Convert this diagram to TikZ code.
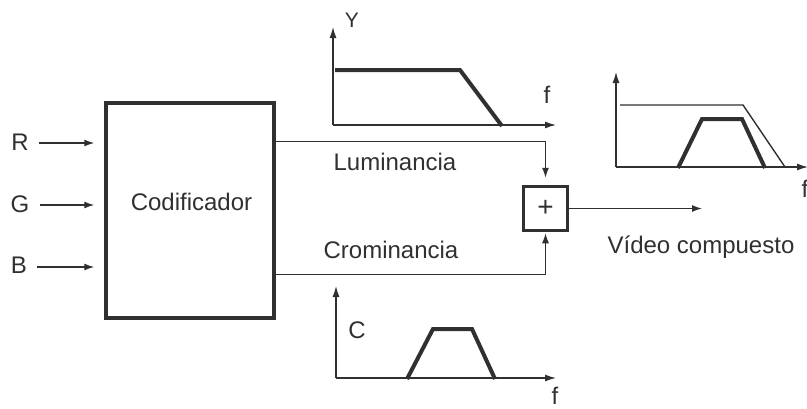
\documentclass[tikz,border=0pt]{standalone}
\usepackage{fontspec}
\setmainfont{Liberation Sans}
\usepackage{xcolor}
\usepackage{tikz}
\usetikzlibrary{arrows.meta,positioning,calc}

\definecolor{ink}{HTML}{303030}

\begin{document}
\begin{tikzpicture}[
  x=1pt,y=-1pt,
  font=\fontsize{24}{28}\selectfont,
  every node/.style={text=ink},
  lbl/.style={anchor=base,inner sep=0pt},
  blk/.style={draw=ink,line width=3.5pt,minimum width=168pt,minimum height=215pt,inner sep=0pt},
  sumbox/.style={draw=ink,line width=3.5pt,minimum size=44pt,inner sep=0pt,font=\fontsize{28}{30}\selectfont},
  arrow/.style={draw=ink,line width=1.3pt,-{Latex[length=10pt,width=7pt]}},
  axis/.style={draw=ink,line width=1.3pt,-{Latex[length=11pt,width=7pt]}},
  curve/.style={draw=ink,line width=4pt,line join=miter},
  thin/.style={draw=ink,line width=1.4pt}
]
\useasboundingbox (0,0) rectangle (807,408);

% coder and adder
\node[blk] (cod) at (190,210.5) {};
\node[lbl] (codtxt) at (191.5,210) {Codificador};
\node[sumbox] (sum) at (545.5,208.5) {+};

% inputs
\node[lbl] (r) at (20,150) {R};
\node[lbl] (g) at (20,212) {G};
\node[lbl] (b) at (19,273) {B};
\draw[arrow,shorten <=10pt,shorten >=10pt] (r.east |- 0,143) -- (cod.west |- 0,143);
\draw[arrow,shorten <=10pt,shorten >=10pt] (g.east |- 0,205) -- (cod.west |- 0,205);
\draw[arrow,shorten <=10pt,shorten >=10pt] (b.east |- 0,267) -- (cod.west |- 0,267);

% luminance and chrominance paths
\draw[arrow,shorten >=7pt] ([yshift=-40pt]cod.north east) -| (sum.north);
\draw[arrow,shorten >=1pt] ([yshift=45pt]cod.south east) -| (sum.south);
\node[lbl] (lum) at (395,170) {Luminancia};
\node[lbl] (crom) at (391,258) {Crominancia};

% output
\coordinate (vout) at (702,208.5);
\draw[arrow] (sum.east) -- (vout);
\node[lbl] (vid) at (701,253) {Vídeo compuesto};

% Y spectrum
\draw[axis] (333,125) -- (333,27);
\draw[axis] (333,125) -- (556,125);
\draw[curve] (335,70) -- (460,70) -- (502,126);
\node[lbl] (ylbl) at (352,27) {\fontsize{21}{22}\selectfont Y};
\node[lbl] (yf) at (547,103) {f};

% C spectrum
\draw[axis] (336,378) -- (336,286);
\draw[axis] (336,378) -- (556,378);
\draw[curve] (407,379) -- (433,329) -- (472,329) -- (495,379);
\node[lbl] (clbl) at (357,338) {C};
\node[lbl] (cf) at (555,404) {f};

% composite spectrum
\draw[axis] (616,167) -- (616,72);
\draw[axis] (616,167) -- (808,167);
\draw[thin] (620,105) -- (743,105) -- (785,167);
\draw[curve] (678,168) -- (702,119) -- (742,119) -- (765,168);
\node[lbl] (vf) at (805,197) {f};
\end{tikzpicture}
\end{document}
